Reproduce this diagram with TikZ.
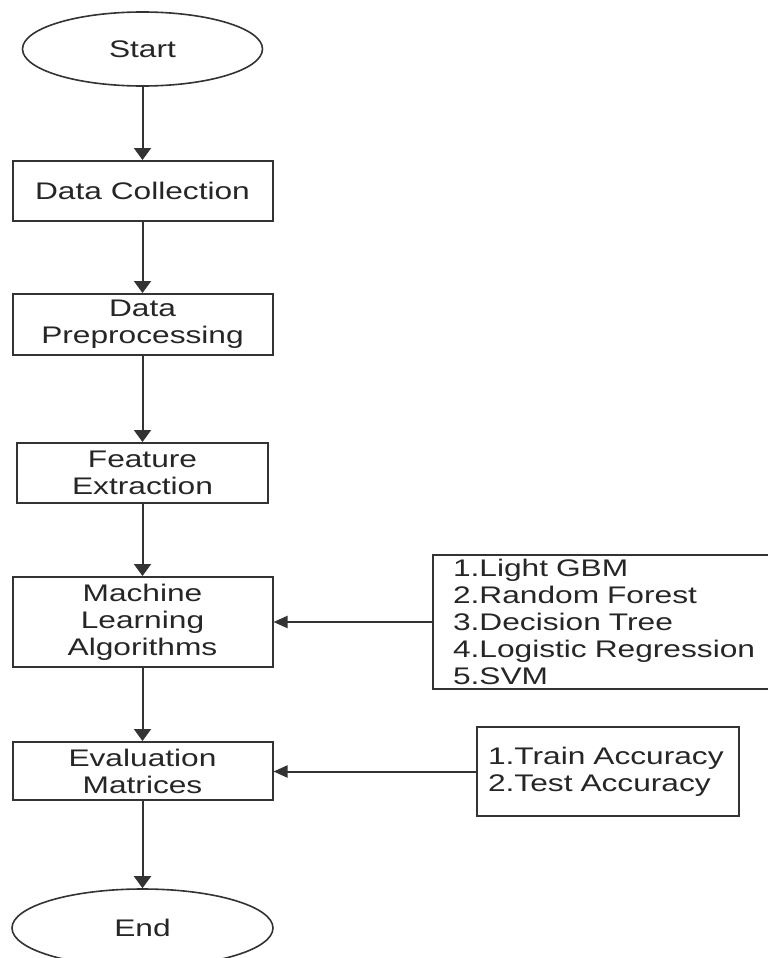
\documentclass[tikz,border=0pt]{standalone}
\usepackage{fontspec}
\setmainfont[FakeStretch=1.32]{Liberation Sans}
\usetikzlibrary{shapes.geometric,arrows.meta}
\begin{document}
\begin{tikzpicture}[x=1pt,y=-1pt,
  every node/.style={text=black!85, font=\fontsize{24}{27}\selectfont},
  proc/.style={draw=black!80, line width=2pt, rectangle, inner sep=0pt, align=center, minimum width=260pt},
  term/.style={draw=black!80, line width=1.6pt, ellipse, inner sep=0pt},
  listbox/.style={draw=black!80, line width=2pt, rectangle, inner ysep=0pt, align=left},
  flow/.style={draw=black!80, line width=2pt, -{Triangle[width=17pt,length=12pt]}},
  side/.style={draw=black!80, line width=2pt, -{Triangle[width=12pt,length=14pt]}}
]
\fill[white] (0,0) rectangle (768,958);
\useasboundingbox (0,0) rectangle (768,958);
\clip (0,0) rectangle (768,958);

\node[term, minimum width=240pt, minimum height=74pt] (start) at (142.5,49) {Start};
\node[proc, minimum height=60pt] (dc) at (142.5,191) {Data Collection};
\node[proc, minimum height=61pt] (dp) at (142.5,324.5) {Data\\Preprocessing};
\node[proc, minimum width=251pt, minimum height=60pt] (fe) at (142.5,473) {Feature\\Extraction};
\node[proc, minimum height=90pt] (ml) at (142.5,622) {Machine\\Learning\\Algorithms};
\node[proc, minimum height=58pt] (ev) at (142.5,771) {Evaluation\\Matrices};
\node[term, minimum width=261pt, minimum height=78pt] (end) at (142.5,928) {End};

\node[listbox, text width=310pt, inner xsep=20pt, minimum height=134pt] (algs) at (608,622)
  {1.Light GBM\\2.Random Forest\\3.Decision Tree\\4.Logistic Regression\\5.SVM};
\node[listbox, text width=240pt, inner xsep=11pt, minimum height=89pt] (metrics) at (608,771.5)
  {1.Train Accuracy\\2.Test Accuracy};

\draw[flow] (start) -- (dc);
\draw[flow] (dc) -- (dp);
\draw[flow] (dp) -- (fe);
\draw[flow] (fe) -- (ml);
\draw[flow] (ml) -- (ev);
\draw[flow] (ev) -- (end);
\draw[side] (algs.west) -- (algs.west -| ml.east);
\draw[side] (metrics.west) -- (metrics.west -| ev.east);
\end{tikzpicture}
\end{document}
